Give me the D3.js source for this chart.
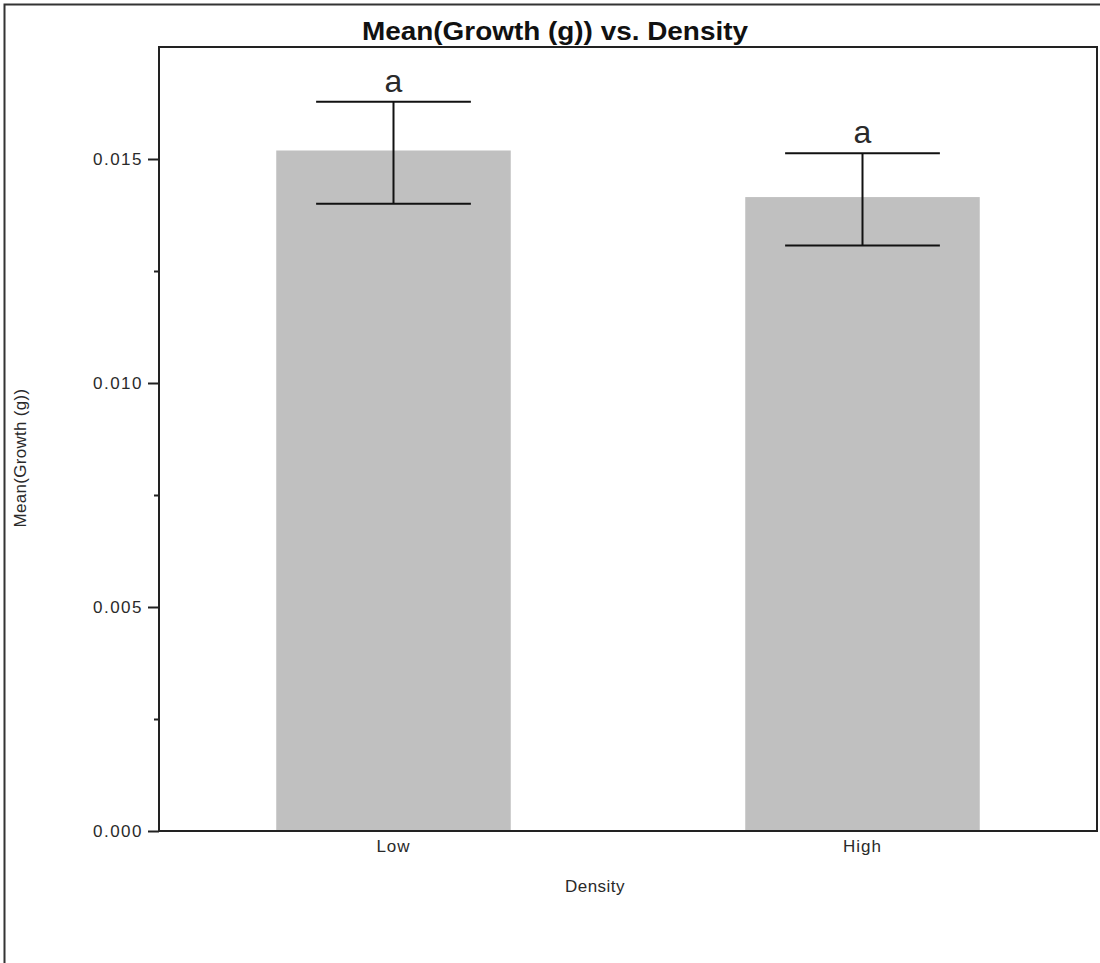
<!DOCTYPE html>
<html>
<head>
<meta charset="utf-8">
<script src="https://cdn.jsdelivr.net/npm/d3@7"></script>
<style>
  html, body { margin: 0; padding: 0; background: #fff; }
  svg { display: block; }
</style>
</head>
<body>
<script>
// Mean growth by stocking density, with error bars and group letters
const categories = ["Low", "High"];
const means      = [0.01519, 0.01415];
const errLower   = [0.01400, 0.01307];
const errUpper   = [0.01628, 0.01513];
const groupLetters = ["a", "a"];
const majorTicks = [0.000, 0.005, 0.010, 0.015];
const minorTicks = [0.0025, 0.0075, 0.0125];

const W = 1100, H = 963;
const plot = { left: 159, top: 47, right: 1097, bottom: 831 };

const svg = d3.select("body").append("svg")
  .attr("width", W).attr("height", H);

// outer figure frame
svg.append("rect")
  .attr("x", 4.5).attr("y", 4.5)
  .attr("width", W + 20).attr("height", H + 20)
  .attr("fill", "none").attr("stroke", "#333").attr("stroke-width", 2);

const x = d3.scaleBand()
  .domain(categories)
  .range([plot.left, plot.right])
  .paddingInner(0.5)
  .paddingOuter(0.25);

const y = d3.scaleLinear()
  .domain([0, 0.0175])
  .range([plot.bottom, plot.top]);

const font = "'Liberation Sans', Arial, sans-serif";
const textColor = "#2a2a2a";

// bars
svg.append("g").selectAll("rect")
  .data(categories)
  .join("rect")
  .attr("x", d => x(d))
  .attr("width", x.bandwidth())
  .attr("y", (d, i) => y(means[i]))
  .attr("height", (d, i) => y(0) - y(means[i]))
  .attr("fill", "#c0c0c0");

// error bars
const capHalf = x.bandwidth() * 0.33;
const eb = svg.append("g").attr("stroke", "#111").attr("stroke-width", 2);
categories.forEach((c, i) => {
  const cx = x(c) + x.bandwidth() / 2;
  eb.append("line").attr("x1", cx).attr("x2", cx)
    .attr("y1", y(errLower[i])).attr("y2", y(errUpper[i]));
  eb.append("line").attr("x1", cx - capHalf).attr("x2", cx + capHalf)
    .attr("y1", y(errUpper[i])).attr("y2", y(errUpper[i]));
  eb.append("line").attr("x1", cx - capHalf).attr("x2", cx + capHalf)
    .attr("y1", y(errLower[i])).attr("y2", y(errLower[i]));
});

// group letters above the error bars
svg.append("g").selectAll("text")
  .data(categories)
  .join("text")
  .attr("x", d => x(d) + x.bandwidth() / 2)
  .attr("y", (d, i) => y(errUpper[i]) - 10)
  .attr("text-anchor", "middle")
  .attr("font-family", font)
  .attr("font-size", 32)
  .attr("fill", textColor)
  .text((d, i) => groupLetters[i]);

// y axis
const yAxis = svg.append("g")
  .attr("transform", `translate(${plot.left},0)`)
  .call(d3.axisLeft(y).tickValues(majorTicks).tickFormat(d3.format(".3f"))
    .tickSize(11).tickPadding(5).tickSizeOuter(0));
yAxis.select(".domain").remove();
yAxis.selectAll(".tick line").attr("stroke", "#222").attr("stroke-width", 2);
yAxis.selectAll(".tick text")
  .attr("font-family", font).attr("font-size", 17)
  .attr("letter-spacing", 1.5).attr("fill", textColor);

svg.append("g")
  .attr("transform", `translate(${plot.left},0)`)
  .call(d3.axisLeft(y).tickValues(minorTicks).tickFormat("").tickSize(5).tickSizeOuter(0))
  .call(g => g.select(".domain").remove())
  .selectAll(".tick line").attr("stroke", "#222").attr("stroke-width", 2);

// x axis labels
const xAxis = svg.append("g")
  .attr("transform", `translate(0,${plot.bottom})`)
  .call(d3.axisBottom(x).tickSize(0).tickPadding(9));
xAxis.select(".domain").remove();
xAxis.selectAll(".tick text")
  .attr("font-family", font).attr("font-size", 17)
  .attr("letter-spacing", 1).attr("fill", textColor);

// plot frame
svg.append("rect")
  .attr("x", plot.left).attr("y", plot.top)
  .attr("width", plot.right - plot.left).attr("height", plot.bottom - plot.top)
  .attr("fill", "none").attr("stroke", "#222").attr("stroke-width", 2);

// title
svg.append("text")
  .attr("x", 555).attr("y", 40)
  .attr("text-anchor", "middle")
  .attr("font-family", font)
  .attr("font-weight", "bold")
  .attr("font-size", 25)
  .attr("textLength", 386)
  .attr("lengthAdjust", "spacingAndGlyphs")
  .attr("fill", "#111")
  .text("Mean(Growth (g)) vs. Density");

// axis titles
svg.append("text")
  .attr("x", 595).attr("y", 892)
  .attr("text-anchor", "middle")
  .attr("font-family", font).attr("font-size", 17)
  .attr("letter-spacing", 0.5).attr("fill", textColor)
  .text("Density");

svg.append("text")
  .attr("transform", "translate(26,458) rotate(-90)")
  .attr("text-anchor", "middle")
  .attr("font-family", font).attr("font-size", 17)
  .attr("letter-spacing", 0.3).attr("fill", textColor)
  .text("Mean(Growth (g))");
</script>
</body>
</html>
